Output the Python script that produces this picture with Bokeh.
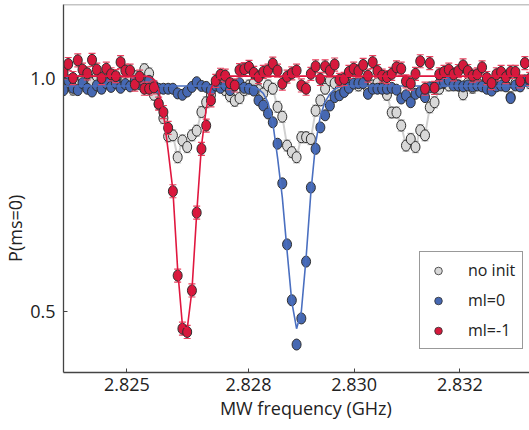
import math
from bokeh.plotting import figure
from bokeh.models import (FixedTicker, Range1d, Span, Legend, LegendItem)
from bokeh.embed import file_html
from bokeh.resources import INLINE

# ---------------- data ----------------
freq = [2.82450, 2.82459, 2.82468, 2.82477, 2.82486, 2.82495, 2.82504, 2.82513, 2.82522, 2.82531,
        2.82540, 2.82549, 2.82558, 2.82567, 2.82576, 2.82585, 2.82594, 2.82603, 2.82612, 2.82621,
        2.82630, 2.82639, 2.82648, 2.82657, 2.82666, 2.82675, 2.82684, 2.82693, 2.82702, 2.82711,
        2.82720, 2.82729, 2.82738, 2.82747, 2.82756, 2.82765, 2.82774, 2.82783, 2.82792, 2.82801,
        2.82810, 2.82819, 2.82828, 2.82837, 2.82846, 2.82855, 2.82864, 2.82873, 2.82882, 2.82891,
        2.82900, 2.82909, 2.82918, 2.82927, 2.82936, 2.82945, 2.82954, 2.82963, 2.82972, 2.82981,
        2.82990, 2.82999, 2.83008, 2.83017, 2.83026, 2.83035, 2.83044, 2.83053, 2.83062, 2.83071,
        2.83080, 2.83089, 2.83098, 2.83107, 2.83116, 2.83125, 2.83134, 2.83143, 2.83152, 2.83161,
        2.83170, 2.83179, 2.83188, 2.83197, 2.83206, 2.83215, 2.83224, 2.83233, 2.83242, 2.83251,
        2.83260, 2.83269, 2.83278, 2.83287, 2.83296, 2.83305, 2.83314, 2.83323, 2.83332, 2.83341,
        2.83350]

p_noinit = [0.990, 0.985, 0.976, 0.990, 1.000, 0.985, 0.990, 1.005, 0.980, 0.995,
            0.990, 1.000, 0.985, 0.995, 1.000, 1.005, 0.990, 1.020, 1.011, 0.965,
            0.945, 0.915, 0.876, 0.878, 0.831, 0.867, 0.853, 0.878, 0.888, 0.928,
            0.949, 0.965, 0.985, 0.990, 0.975, 0.962, 0.952, 0.958, 0.975, 0.985,
            0.990, 0.975, 0.968, 0.985, 0.978, 0.939, 0.918, 0.856, 0.842, 0.831,
            0.874, 0.874, 0.870, 0.931, 0.953, 0.978, 0.996, 0.990, 0.975, 0.985,
            0.990, 0.995, 0.985, 0.990, 0.980, 0.985, 0.990, 0.980, 0.965, 0.927,
            0.927, 0.899, 0.856, 0.870, 0.853, 0.889, 0.878, 0.938, 0.949, 0.978,
            0.990, 0.985, 0.990, 0.985, 0.966, 0.990, 0.980, 0.990, 0.985, 0.990,
            0.980, 0.985, 0.990, 0.985, 0.960, 0.990, 0.985, 0.995, 0.990, 0.990,
            0.990]

p_ml0 = [0.975, 0.996, 0.980, 0.975, 0.990, 0.978, 0.972, 0.985, 0.978, 0.990,
         0.982, 0.990, 0.980, 0.988, 0.983, 0.995, 0.988, 0.990, 0.995, 0.985,
         0.978, 0.978, 0.978, 0.978, 0.968, 0.965, 0.972, 0.982, 0.992, 0.984,
         0.982, 0.975, 0.985, 0.980, 0.985, 0.975, 0.985, 0.990, 0.980, 0.978,
         0.974, 0.953, 0.942, 0.925, 0.906, 0.860, 0.775, 0.644, 0.524, 0.429,
         0.485, 0.607, 0.766, 0.849, 0.895, 0.921, 0.942, 0.960, 0.964, 0.971,
         0.980, 0.989, 0.990, 0.990, 0.967, 0.978, 0.978, 0.978, 0.978, 0.980,
         0.976, 0.957, 0.964, 0.949, 0.967, 0.971, 0.960, 0.981, 0.981, 0.989,
         0.992, 0.996, 0.985, 0.985, 0.983, 0.985, 0.983, 0.985, 0.983, 0.978,
         0.974, 0.983, 0.985, 0.983, 0.958, 0.985, 0.983, 0.996, 0.996, 0.990,
         0.990]

p_mlm1 = [1.013, 1.031, 1.001, 1.039, 1.019, 1.011, 1.040, 1.019, 1.001, 1.021,
          1.009, 1.005, 1.035, 1.017, 1.017, 0.987, 1.004, 0.978, 0.978, 0.981,
          0.946, 0.928, 0.894, 0.758, 0.577, 0.463, 0.456, 0.545, 0.712, 0.849,
          0.899, 0.953, 0.995, 1.008, 1.006, 0.990, 0.985, 1.018, 1.020, 1.025,
          1.012, 1.003, 1.014, 1.017, 1.032, 1.017, 0.989, 1.004, 1.011, 1.017,
          0.985, 0.978, 1.010, 1.026, 0.999, 1.026, 1.017, 1.030, 0.997, 0.999,
          1.014, 1.021, 1.016, 1.029, 1.006, 1.035, 1.016, 1.006, 1.003, 1.010,
          1.024, 1.021, 0.994, 0.989, 1.010, 1.037, 0.978, 1.033, 0.980, 1.009,
          1.014, 1.019, 1.009, 1.016, 1.028, 1.016, 1.006, 1.009, 1.024, 1.001,
          0.990, 1.009, 1.014, 1.003, 1.014, 1.014, 0.994, 1.033, 0.999, 1.010,
          1.005]

err_noinit = 0.012
err_ml0 = 0.004
err_mlm1 = 0.014

fit_ml0_freq = [2.82450, 2.82792, 2.82801, 2.82810, 2.82819, 2.82828, 2.82837, 2.82846, 2.82855,
                2.82864, 2.82873, 2.82882, 2.82891, 2.82900, 2.82909, 2.82918, 2.82927, 2.82936,
                2.82945, 2.82954, 2.82963, 2.82972, 2.82981, 2.83350]
fit_ml0 = [0.984, 0.984, 0.983, 0.981, 0.977, 0.968, 0.948, 0.905, 0.830,
           0.745, 0.630, 0.520, 0.463, 0.500, 0.615, 0.755, 0.860, 0.920,
           0.950, 0.967, 0.977, 0.982, 0.984, 0.984]

fit_mlm1_freq = [2.82450, 2.82603, 2.82612, 2.82621, 2.82630, 2.82639, 2.82648, 2.82657, 2.82666,
                 2.82675, 2.82684, 2.82693, 2.82702, 2.82711, 2.82720, 2.82729, 2.82738, 2.82747,
                 2.82756, 2.83350]
fit_mlm1 = [1.005, 1.005, 1.004, 0.998, 0.975, 0.925, 0.845, 0.760, 0.590,
            0.470, 0.462, 0.545, 0.710, 0.855, 0.935, 0.978, 0.997, 1.003,
            1.005, 1.005]

xticks = [2.8257, 2.828, 2.830, 2.832]
xtick_labels = ["2.825", "2.828", "2.830", "2.832"]
yticks = [0.5, 1.0]
ytick_labels = ["0.5", "1.0"]
series_names = ["no init", "ml=0", "ml=-1"]
x_title = "MW frequency (GHz)"
y_title = "P(ms=0)"

# ---------------- styling ----------------
FONT = "Open Sans"
C_GREY = "#d8d8d8"
C_BLUE = "#4668b2"
C_RED = "#d6193c"
EDGE = "#2e2e2e"
NBSP = "\u00a0"

X0, X1 = 2.8245, 2.833317
Y0, Y1 = 0.369, 1.1588

p = figure(width=529, height=430, output_backend="svg", toolbar_location=None,
           x_range=Range1d(X0, X1), y_range=Range1d(Y0, Y1),
           min_border_left=61, min_border_right=0, min_border_top=4,
           min_border_bottom=58)
p.outline_line_color = None
p.background_fill_color = "white"
p.border_fill_color = "white"
p.xgrid.visible = False
p.ygrid.visible = False


def errbars(vals, err, color, width):
    lo = [v - err for v in vals]
    hi = [v + err for v in vals]
    p.segment(x0=freq, y0=lo, x1=freq, y1=hi, line_color=color, line_width=width)
    p.scatter(x=freq, y=hi, marker="dash", size=7, line_color=color, line_width=width)
    p.scatter(x=freq, y=lo, marker="dash", size=7, line_color=color, line_width=width)


def points(vals, color):
    p.ellipse(x=freq, y=vals, width=9, height=11, width_units="screen",
              height_units="screen", fill_color=color, line_color=EDGE, line_width=1)


# no init
p.line(freq, p_noinit, line_color="#d0d0d0", line_width=2)
errbars(p_noinit, err_noinit, "#c4c4c4", 1.2)
points(p_noinit, C_GREY)
# ml = 0
errbars(p_ml0, err_ml0, "#6f8ccc", 1)
points(p_ml0, C_BLUE)
p.line(fit_ml0_freq, fit_ml0, line_color="#4a6fc0", line_width=1.6)
# ml = -1
errbars(p_mlm1, err_mlm1, "#e8425f", 1.2)
points(p_mlm1, C_RED)
p.line(fit_mlm1_freq, fit_mlm1, line_color="#e0173f", line_width=1.6)

# top frame line
p.add_layout(Span(location=Y1, dimension="width", line_color="#8a8a8a", line_width=1.5))

# axes
p.xaxis.ticker = FixedTicker(ticks=xticks)
p.xaxis.major_label_overrides = {t: l for t, l in zip(xticks, xtick_labels)}
p.yaxis.ticker = FixedTicker(ticks=yticks)
p.yaxis.major_label_overrides = {t: l for t, l in zip(yticks, ytick_labels)}
for ax in (p.xaxis[0], p.yaxis[0]):
    ax.axis_line_color = "#444444"
    ax.axis_line_width = 1.3
    ax.major_tick_line_color = "#444444"
    ax.major_tick_in = 4
    ax.major_tick_out = 0
    ax.minor_tick_line_color = None
    ax.major_label_text_font = FONT
    ax.major_label_text_font_size = "18px"
    ax.major_label_text_color = "#222222"
    ax.axis_label_text_font = FONT
    ax.axis_label_text_font_size = "18px"
    ax.axis_label_text_font_style = "normal"
    ax.axis_label_text_color = "#222222"
p.xaxis.major_label_standoff = 5
p.yaxis.major_label_standoff = 8
p.xaxis.axis_label = NBSP * 4 + x_title
p.xaxis.axis_label_standoff = 2
p.yaxis.axis_label = y_title + NBSP * 17
p.yaxis.axis_label_standoff = 0

# legend
nan = float("nan")
legend_colors = [C_GREY, C_BLUE, C_RED]
items = []
for name, col in zip(series_names, legend_colors):
    r = p.scatter(x=[nan], y=[nan], marker="circle", size=7, fill_color=col,
                  line_color=EDGE, line_width=0.8)
    items.append(LegendItem(label=name, renderers=[r]))
legend = Legend(items=items, location=(356, 23), border_line_color="#333333",
                border_line_width=1.2, background_fill_color="white",
                background_fill_alpha=1.0, label_text_font=FONT,
                label_text_font_size="16px", label_text_color="#222222",
                padding=7, spacing=8, glyph_height=19, glyph_width=22,
                label_height=19, label_standoff=19, margin=0)
p.add_layout(legend)

open("out.html", "w").write(file_html(p, INLINE))
